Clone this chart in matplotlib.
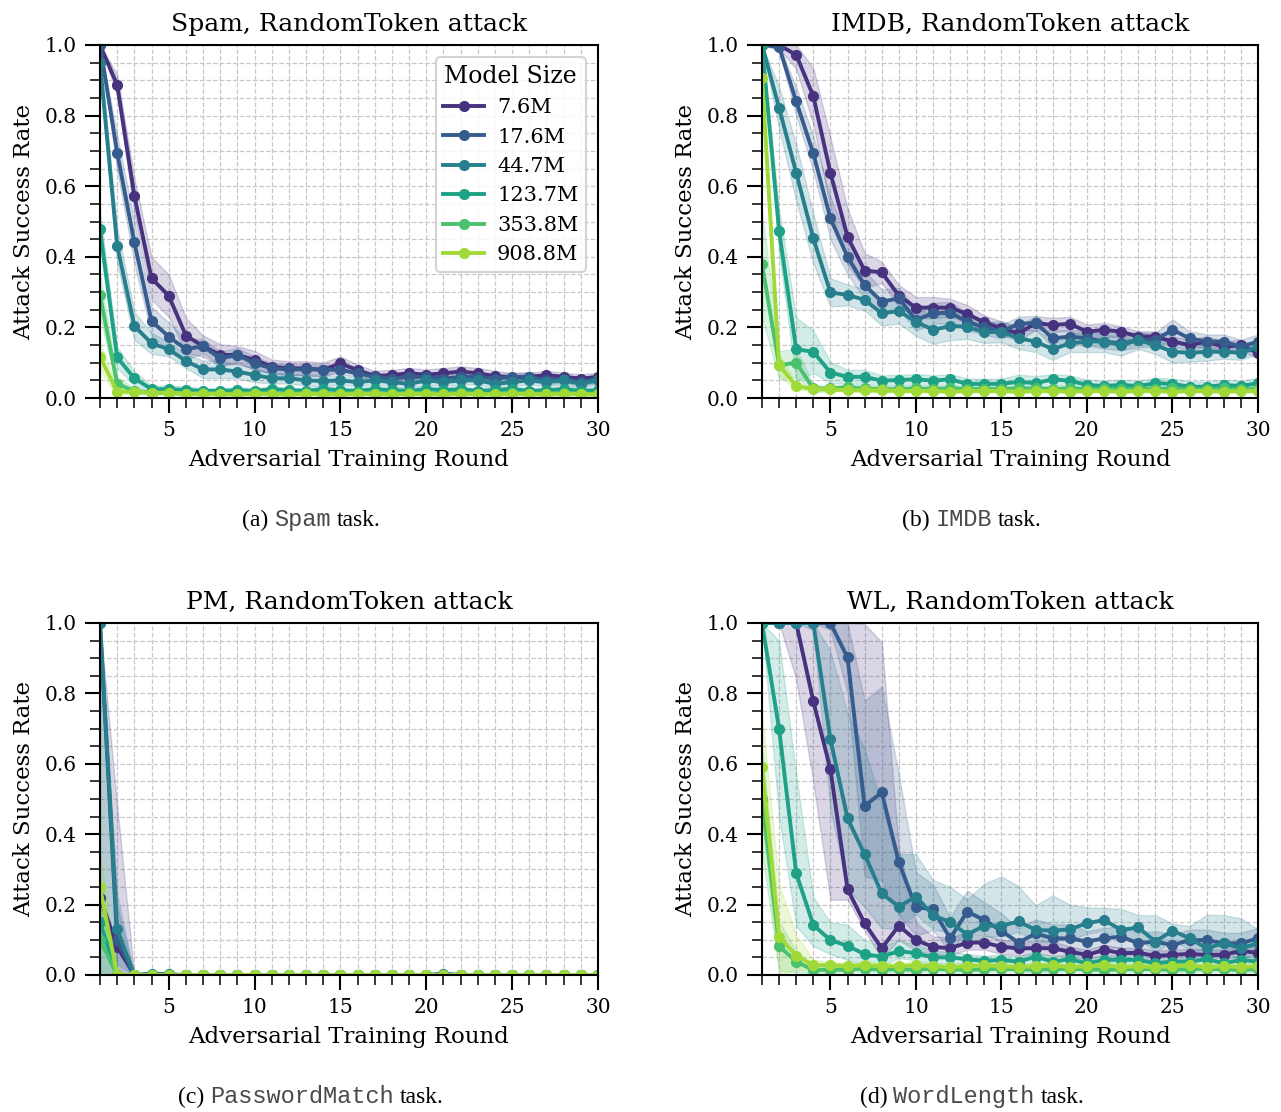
import numpy as np
import matplotlib
matplotlib.use('Agg')
import matplotlib.pyplot as plt
from matplotlib.ticker import MultipleLocator

plt.rcParams['font.family'] = 'DejaVu Serif'

rounds = list(range(1, 31))
model_sizes = ['7.6M', '17.6M', '44.7M', '123.7M', '353.8M', '908.8M']

# mean attack success rate per model size (rows) and per round (columns)
spam_asr = [
    [1.00, 0.887, 0.573, 0.339, 0.290, 0.177, 0.147, 0.122, 0.122, 0.108, 0.089, 0.084, 0.084, 0.080, 0.098,
     0.079, 0.062, 0.065, 0.070, 0.066, 0.070, 0.075, 0.070, 0.062, 0.058, 0.060, 0.065, 0.060, 0.055, 0.060],
    [1.00, 0.695, 0.441, 0.218, 0.174, 0.138, 0.147, 0.112, 0.122, 0.098, 0.084, 0.081, 0.081, 0.080, 0.080,
     0.070, 0.060, 0.055, 0.060, 0.060, 0.055, 0.060, 0.060, 0.055, 0.060, 0.060, 0.050, 0.055, 0.045, 0.055],
    [0.95, 0.432, 0.204, 0.155, 0.138, 0.105, 0.081, 0.081, 0.075, 0.065, 0.056, 0.056, 0.050, 0.048, 0.050,
     0.045, 0.050, 0.045, 0.040, 0.050, 0.045, 0.050, 0.050, 0.040, 0.045, 0.050, 0.045, 0.050, 0.040, 0.050],
    [0.478, 0.115, 0.056, 0.025, 0.025, 0.023, 0.020, 0.020, 0.022, 0.020, 0.025, 0.022, 0.020, 0.025, 0.022,
     0.020, 0.025, 0.022, 0.020, 0.025, 0.022, 0.025, 0.020, 0.022, 0.025, 0.020, 0.022, 0.025, 0.020, 0.022],
    [0.292, 0.040, 0.020, 0.015, 0.015, 0.012, 0.015, 0.012, 0.012, 0.015, 0.012, 0.012, 0.015, 0.012, 0.012,
     0.015, 0.012, 0.012, 0.015, 0.012, 0.012, 0.015, 0.012, 0.012, 0.015, 0.012, 0.012, 0.015, 0.012, 0.012],
    [0.117, 0.018, 0.018, 0.015, 0.015, 0.012, 0.012, 0.012, 0.010, 0.012, 0.012, 0.010, 0.012, 0.012, 0.010,
     0.012, 0.012, 0.010, 0.012, 0.012, 0.010, 0.012, 0.012, 0.010, 0.012, 0.012, 0.010, 0.012, 0.012, 0.010],
]
spam_err = [
    [0.00, 0.03, 0.05, 0.06, 0.06, 0.05, 0.03, 0.03, 0.025, 0.025, 0.02, 0.02, 0.02, 0.02, 0.02,
     0.015, 0.015, 0.015, 0.015, 0.015, 0.015, 0.015, 0.015, 0.015, 0.012, 0.012, 0.012, 0.012, 0.012, 0.012],
    [0.00, 0.05, 0.06, 0.04, 0.04, 0.03, 0.02, 0.02, 0.02, 0.02, 0.015, 0.015, 0.015, 0.015, 0.012,
     0.012, 0.012, 0.012, 0.012, 0.012, 0.012, 0.012, 0.012, 0.012, 0.012, 0.012, 0.012, 0.012, 0.012, 0.012],
    [0.03, 0.05, 0.04, 0.03, 0.02, 0.02, 0.025, 0.025, 0.02, 0.02, 0.015, 0.015, 0.015, 0.015, 0.012,
     0.012, 0.012, 0.012, 0.012, 0.012, 0.012, 0.012, 0.012, 0.012, 0.012, 0.012, 0.012, 0.012, 0.012, 0.012],
    [0.05, 0.03, 0.02, 0.01, 0.01, 0.01, 0.008, 0.008, 0.008, 0.008, 0.008, 0.008, 0.008, 0.008, 0.008,
     0.008, 0.008, 0.008, 0.008, 0.008, 0.008, 0.008, 0.008, 0.008, 0.008, 0.008, 0.008, 0.008, 0.008, 0.008],
    [0.06, 0.02, 0.008, 0.005, 0.005, 0.005, 0.005, 0.005, 0.005, 0.005, 0.005, 0.005, 0.005, 0.005, 0.005,
     0.005, 0.005, 0.005, 0.005, 0.005, 0.005, 0.005, 0.005, 0.005, 0.005, 0.005, 0.005, 0.005, 0.005, 0.005],
    [0.04, 0.01, 0.005, 0.005, 0.005, 0.005, 0.005, 0.005, 0.005, 0.005, 0.005, 0.005, 0.005, 0.005, 0.005,
     0.005, 0.005, 0.005, 0.005, 0.005, 0.005, 0.005, 0.005, 0.005, 0.005, 0.005, 0.005, 0.005, 0.005, 0.005],
]

imdb_asr = [
    [1.00, 1.00, 0.972, 0.855, 0.638, 0.457, 0.361, 0.356, 0.290, 0.256, 0.256, 0.256, 0.238, 0.214, 0.197,
     0.183, 0.212, 0.207, 0.210, 0.188, 0.193, 0.188, 0.174, 0.174, 0.160, 0.150, 0.160, 0.145, 0.150, 0.127],
    [1.00, 0.995, 0.840, 0.693, 0.509, 0.400, 0.320, 0.273, 0.282, 0.221, 0.240, 0.242, 0.216, 0.200, 0.188,
     0.210, 0.213, 0.169, 0.174, 0.169, 0.160, 0.155, 0.164, 0.165, 0.193, 0.169, 0.160, 0.160, 0.145, 0.160],
    [1.00, 0.822, 0.638, 0.452, 0.299, 0.292, 0.278, 0.240, 0.246, 0.216, 0.193, 0.204, 0.202, 0.186, 0.188,
     0.169, 0.160, 0.138, 0.155, 0.160, 0.160, 0.150, 0.164, 0.150, 0.131, 0.128, 0.131, 0.131, 0.128, 0.145],
    [1.00, 0.473, 0.138, 0.131, 0.072, 0.060, 0.060, 0.049, 0.051, 0.053, 0.049, 0.053, 0.040, 0.040, 0.040,
     0.046, 0.042, 0.053, 0.049, 0.037, 0.034, 0.037, 0.034, 0.042, 0.040, 0.032, 0.032, 0.037, 0.034, 0.042],
    [0.379, 0.093, 0.100, 0.027, 0.027, 0.030, 0.027, 0.025, 0.025, 0.027, 0.025, 0.027, 0.025, 0.025, 0.025,
     0.027, 0.027, 0.025, 0.027, 0.025, 0.027, 0.025, 0.027, 0.025, 0.027, 0.025, 0.025, 0.027, 0.025, 0.025],
    [0.906, 0.093, 0.034, 0.025, 0.025, 0.022, 0.022, 0.022, 0.020, 0.020, 0.020, 0.018, 0.020, 0.020, 0.020,
     0.018, 0.020, 0.020, 0.018, 0.020, 0.020, 0.018, 0.020, 0.020, 0.018, 0.020, 0.020, 0.018, 0.020, 0.020],
]
imdb_err = [
    [0.00, 0.01, 0.04, 0.08, 0.10, 0.08, 0.05, 0.03, 0.03, 0.03, 0.03, 0.025, 0.025, 0.02, 0.02,
     0.02, 0.02, 0.02, 0.02, 0.02, 0.02, 0.015, 0.015, 0.015, 0.015, 0.015, 0.015, 0.015, 0.015, 0.015],
    [0.00, 0.01, 0.04, 0.05, 0.06, 0.05, 0.04, 0.035, 0.03, 0.03, 0.03, 0.03, 0.025, 0.02, 0.02,
     0.02, 0.02, 0.025, 0.02, 0.02, 0.02, 0.02, 0.02, 0.02, 0.03, 0.02, 0.02, 0.02, 0.02, 0.02],
    [0.00, 0.06, 0.08, 0.07, 0.04, 0.03, 0.03, 0.035, 0.035, 0.04, 0.04, 0.04, 0.035, 0.03, 0.03,
     0.03, 0.03, 0.03, 0.025, 0.03, 0.03, 0.03, 0.025, 0.025, 0.03, 0.025, 0.025, 0.02, 0.02, 0.02],
    [0.00, 0.06, 0.09, 0.06, 0.03, 0.02, 0.02, 0.015, 0.015, 0.015, 0.015, 0.015, 0.015, 0.015, 0.015,
     0.02, 0.02, 0.015, 0.015, 0.015, 0.015, 0.015, 0.015, 0.015, 0.015, 0.015, 0.015, 0.015, 0.015, 0.015],
    [0.15, 0.04, 0.04, 0.01, 0.008, 0.008, 0.008, 0.008, 0.008, 0.008, 0.008, 0.008, 0.008, 0.008, 0.008,
     0.008, 0.008, 0.008, 0.008, 0.008, 0.008, 0.008, 0.008, 0.008, 0.008, 0.008, 0.008, 0.008, 0.008, 0.008],
    [0.05, 0.03, 0.01, 0.005, 0.005, 0.005, 0.005, 0.005, 0.005, 0.005, 0.005, 0.005, 0.005, 0.005, 0.005,
     0.005, 0.005, 0.005, 0.005, 0.005, 0.005, 0.005, 0.005, 0.005, 0.005, 0.005, 0.005, 0.005, 0.005, 0.005],
]

pm_asr = [
    [0.22, 0.08, 0.0, 0.0, 0.0, 0.0, 0.0, 0.0, 0.0, 0.0, 0.0, 0.0, 0.0, 0.0, 0.0,
     0.0, 0.0, 0.0, 0.0, 0.0, 0.0, 0.0, 0.0, 0.0, 0.0, 0.0, 0.0, 0.0, 0.0, 0.0],
    [1.00, 0.10, 0.0, 0.0, 0.0, 0.0, 0.0, 0.0, 0.0, 0.0, 0.0, 0.0, 0.0, 0.0, 0.0,
     0.0, 0.0, 0.0, 0.0, 0.0, 0.0, 0.0, 0.0, 0.0, 0.0, 0.0, 0.0, 0.0, 0.0, 0.0],
    [1.00, 0.13, 0.0, 0.004, 0.002, 0.0, 0.0, 0.0, 0.0, 0.0, 0.0, 0.0, 0.0, 0.0, 0.0,
     0.0, 0.0, 0.0, 0.0, 0.0, 0.004, 0.0, 0.0, 0.0, 0.0, 0.0, 0.0, 0.0, 0.0, 0.0],
    [0.15, 0.0, 0.0, 0.0, 0.0, 0.0, 0.0, 0.0, 0.0, 0.0, 0.0, 0.0, 0.0, 0.0, 0.0,
     0.0, 0.0, 0.0, 0.0, 0.0, 0.0, 0.0, 0.0, 0.0, 0.0, 0.0, 0.0, 0.0, 0.0, 0.0],
    [0.10, 0.0, 0.0, 0.0, 0.0, 0.0, 0.0, 0.0, 0.0, 0.0, 0.0, 0.0, 0.0, 0.0, 0.0,
     0.0, 0.0, 0.0, 0.0, 0.0, 0.0, 0.0, 0.0, 0.0, 0.0, 0.0, 0.0, 0.0, 0.0, 0.0],
    [0.25, 0.0, 0.0, 0.0, 0.0, 0.0, 0.0, 0.0, 0.0, 0.0, 0.0, 0.0, 0.0, 0.0, 0.0,
     0.0, 0.0, 0.0, 0.0, 0.0, 0.0, 0.0, 0.0, 0.0, 0.0, 0.0, 0.0, 0.0, 0.0, 0.0],
]
pm_err = [
    [0.80, 0.40, 0.0, 0.0, 0.0, 0.0, 0.0, 0.0, 0.0, 0.0, 0.0, 0.0, 0.0, 0.0, 0.0,
     0.0, 0.0, 0.0, 0.0, 0.0, 0.0, 0.0, 0.0, 0.0, 0.0, 0.0, 0.0, 0.0, 0.0, 0.0],
    [0.0, 0.10, 0.0, 0.0, 0.0, 0.0, 0.0, 0.0, 0.0, 0.0, 0.0, 0.0, 0.0, 0.0, 0.0,
     0.0, 0.0, 0.0, 0.0, 0.0, 0.0, 0.0, 0.0, 0.0, 0.0, 0.0, 0.0, 0.0, 0.0, 0.0],
    [0.0, 0.10, 0.0, 0.008, 0.004, 0.0, 0.0, 0.0, 0.0, 0.0, 0.0, 0.0, 0.0, 0.0, 0.0,
     0.0, 0.0, 0.0, 0.0, 0.0, 0.006, 0.0, 0.0, 0.0, 0.0, 0.0, 0.0, 0.0, 0.0, 0.0],
    [0.85, 0.0, 0.0, 0.0, 0.0, 0.0, 0.0, 0.0, 0.0, 0.0, 0.0, 0.0, 0.0, 0.0, 0.0,
     0.0, 0.0, 0.0, 0.0, 0.0, 0.0, 0.0, 0.0, 0.0, 0.0, 0.0, 0.0, 0.0, 0.0, 0.0],
    [0.10, 0.0, 0.0, 0.0, 0.0, 0.0, 0.0, 0.0, 0.0, 0.0, 0.0, 0.0, 0.0, 0.0, 0.0,
     0.0, 0.0, 0.0, 0.0, 0.0, 0.0, 0.0, 0.0, 0.0, 0.0, 0.0, 0.0, 0.0, 0.0, 0.0],
    [0.10, 0.0, 0.0, 0.0, 0.0, 0.0, 0.0, 0.0, 0.0, 0.0, 0.0, 0.0, 0.0, 0.0, 0.0,
     0.0, 0.0, 0.0, 0.0, 0.0, 0.0, 0.0, 0.0, 0.0, 0.0, 0.0, 0.0, 0.0, 0.0, 0.0],
]

wl_asr = [
    [1.00, 1.00, 1.00, 0.778, 0.584, 0.244, 0.147, 0.076, 0.140, 0.099, 0.080, 0.076, 0.092, 0.092, 0.080,
     0.076, 0.076, 0.076, 0.066, 0.057, 0.071, 0.062, 0.063, 0.054, 0.057, 0.060, 0.057, 0.057, 0.069, 0.062],
    [1.00, 1.00, 1.00, 1.00, 1.00, 0.902, 0.480, 0.519, 0.320, 0.192, 0.187, 0.104, 0.180, 0.156, 0.125,
     0.092, 0.118, 0.104, 0.104, 0.095, 0.104, 0.109, 0.090, 0.095, 0.085, 0.099, 0.099, 0.090, 0.090, 0.104],
    [1.00, 1.00, 1.00, 1.00, 0.670, 0.445, 0.343, 0.232, 0.194, 0.223, 0.170, 0.150, 0.115, 0.140, 0.140,
     0.152, 0.128, 0.126, 0.130, 0.147, 0.156, 0.128, 0.135, 0.095, 0.126, 0.104, 0.076, 0.090, 0.076, 0.090],
    [1.00, 0.699, 0.289, 0.142, 0.099, 0.083, 0.059, 0.052, 0.068, 0.062, 0.050, 0.050, 0.045, 0.040, 0.043,
     0.038, 0.052, 0.038, 0.045, 0.033, 0.043, 0.043, 0.043, 0.033, 0.038, 0.038, 0.045, 0.033, 0.043, 0.038],
    [0.50, 0.082, 0.038, 0.014, 0.015, 0.015, 0.018, 0.015, 0.016, 0.015, 0.018, 0.016, 0.015, 0.016, 0.018,
     0.016, 0.015, 0.016, 0.018, 0.016, 0.015, 0.016, 0.018, 0.016, 0.015, 0.016, 0.018, 0.016, 0.015, 0.016],
    [0.59, 0.109, 0.055, 0.028, 0.028, 0.025, 0.028, 0.025, 0.025, 0.028, 0.025, 0.022, 0.025, 0.028, 0.025,
     0.022, 0.025, 0.028, 0.022, 0.025, 0.028, 0.022, 0.025, 0.022, 0.025, 0.028, 0.022, 0.025, 0.022, 0.025],
]
# WordLength bands are lopsided, so they get separate below / above widths
wl_err = [
    [0.00, 0.00, 0.16, 0.23, 0.37, 0.03, 0.02, 0.03, 0.04, 0.03, 0.02, 0.02, 0.02, 0.02, 0.02,
     0.02, 0.02, 0.02, 0.015, 0.015, 0.015, 0.015, 0.015, 0.015, 0.015, 0.015, 0.015, 0.015, 0.015, 0.015],
    [0.00, 0.00, 0.00, 0.00, 0.02, 0.10, 0.20, 0.25, 0.15, 0.08, 0.06, 0.04, 0.05, 0.04, 0.03,
     0.03, 0.03, 0.03, 0.03, 0.03, 0.03, 0.03, 0.03, 0.03, 0.03, 0.03, 0.03, 0.03, 0.03, 0.03],
    [0.00, 0.00, 0.00, 0.02, 0.20, 0.20, 0.15, 0.10, 0.06, 0.05, 0.04, 0.03, 0.03, 0.03, 0.03,
     0.03, 0.03, 0.03, 0.03, 0.03, 0.03, 0.03, 0.03, 0.03, 0.03, 0.03, 0.03, 0.03, 0.03, 0.03],
    [0.00, 0.25, 0.15, 0.06, 0.04, 0.04, 0.03, 0.025, 0.02, 0.02, 0.02, 0.015, 0.015, 0.015, 0.015,
     0.015, 0.015, 0.015, 0.015, 0.015, 0.015, 0.015, 0.015, 0.015, 0.015, 0.015, 0.015, 0.015, 0.015, 0.015],
    [0.15, 0.07, 0.03, 0.01, 0.008, 0.008, 0.008, 0.008, 0.008, 0.008, 0.008, 0.008, 0.008, 0.008, 0.008,
     0.008, 0.008, 0.008, 0.008, 0.008, 0.008, 0.008, 0.008, 0.008, 0.008, 0.008, 0.008, 0.008, 0.008, 0.008],
    [0.15, 0.12, 0.04, 0.015, 0.01, 0.01, 0.01, 0.01, 0.01, 0.01, 0.01, 0.01, 0.01, 0.01, 0.01,
     0.01, 0.01, 0.01, 0.01, 0.01, 0.01, 0.01, 0.01, 0.01, 0.01, 0.01, 0.01, 0.01, 0.01, 0.01],
]
wl_err_hi = [
    [0.00, 0.00, 0.00, 0.22, 0.42, 0.76, 0.85, 0.87, 0.22, 0.05, 0.03, 0.03, 0.03, 0.02, 0.02,
     0.02, 0.02, 0.02, 0.015, 0.015, 0.015, 0.015, 0.015, 0.015, 0.015, 0.015, 0.015, 0.015, 0.015, 0.015],
    [0.00, 0.00, 0.00, 0.00, 0.00, 0.10, 0.30, 0.30, 0.25, 0.10, 0.07, 0.06, 0.06, 0.05, 0.05,
     0.04, 0.04, 0.04, 0.04, 0.03, 0.03, 0.03, 0.03, 0.03, 0.03, 0.03, 0.03, 0.03, 0.03, 0.03],
    [0.00, 0.00, 0.00, 0.00, 0.25, 0.30, 0.30, 0.25, 0.15, 0.12, 0.10, 0.10, 0.10, 0.12, 0.14,
     0.10, 0.07, 0.10, 0.07, 0.045, 0.035, 0.06, 0.035, 0.075, 0.02, 0.035, 0.095, 0.08, 0.085, 0.04],
    [0.00, 0.25, 0.28, 0.08, 0.05, 0.06, 0.04, 0.03, 0.03, 0.025, 0.02, 0.015, 0.015, 0.015, 0.015,
     0.015, 0.015, 0.015, 0.015, 0.015, 0.015, 0.015, 0.015, 0.015, 0.015, 0.015, 0.015, 0.015, 0.015, 0.015],
    [0.15, 0.07, 0.03, 0.01, 0.008, 0.008, 0.008, 0.008, 0.008, 0.008, 0.008, 0.008, 0.008, 0.008, 0.008,
     0.008, 0.008, 0.008, 0.008, 0.008, 0.008, 0.008, 0.008, 0.008, 0.008, 0.008, 0.008, 0.008, 0.008, 0.008],
    [0.15, 0.15, 0.06, 0.015, 0.01, 0.01, 0.01, 0.01, 0.01, 0.01, 0.01, 0.01, 0.01, 0.01, 0.01,
     0.01, 0.01, 0.01, 0.01, 0.01, 0.01, 0.01, 0.01, 0.01, 0.01, 0.01, 0.01, 0.01, 0.01, 0.01],
]

titles = ['Spam, RandomToken attack', 'IMDB, RandomToken attack',
          'PM, RandomToken attack', 'WL, RandomToken attack']
caption_tags = ['(a)', '(b)', '(c)', '(d)']
caption_tasks = ['Spam', 'IMDB', 'PasswordMatch', 'WordLength']

colors = plt.cm.viridis(np.linspace(0, 1, 8)[1:-1])

W, H = 1281, 1112
fig = plt.figure(figsize=(W / 100, H / 100), dpi=100)


def px_rect(left, top, right, bottom):
    return [left / W, 1 - bottom / H, (right - left) / W, (bottom - top) / H]


rects = [px_rect(100, 45, 598, 398), px_rect(762, 45, 1258, 398),
         px_rect(100, 623, 598, 975), px_rect(762, 623, 1258, 975)]
caption_pos = [(311, 526), (972, 526), (311, 1103), (972, 1103)]

panels = [(spam_asr, spam_err, spam_err), (imdb_asr, imdb_err, imdb_err),
          (pm_asr, pm_err, pm_err), (wl_asr, wl_err, wl_err_hi)]

renderer = fig.canvas.get_renderer()


def caption(cx, cy, tag, task):
    # serif tag + monospace task name + serif word, laid out side by side
    parts = [(tag, 'Liberation Serif', 'black'), (task, 'Liberation Mono', '#4a4a4a'),
             ('task.', 'Liberation Serif', 'black')]
    texts = [fig.text(0, 1 - cy / H, s, family=f, color=c, fontsize=17, va='baseline')
             for s, f, c in parts]
    widths = [t.get_window_extent(renderer).width for t in texts]
    gap = 0.25 * 17 * 100 / 72
    x = cx - (sum(widths) + 2 * gap) / 2
    for t, w in zip(texts, widths):
        t.set_x(x / W)
        x += w + gap


for i, (asr, err_lo, err_hi) in enumerate(panels):
    ax = fig.add_axes(rects[i])
    for k, size in enumerate(model_sizes):
        m = np.array(asr[k])
        lo = np.clip(m - np.array(err_lo[k]), 0, 1)
        hi = np.clip(m + np.array(err_hi[k]), 0, 1)
        ax.fill_between(rounds, lo, hi, color=colors[k], alpha=0.2)
        ax.plot(rounds, m, color=colors[k], lw=2.8, marker='o', ms=7, label=size)

    ax.set_xlim(1, 30)
    ax.set_ylim(0, 1)
    ax.xaxis.set_major_locator(MultipleLocator(5))
    ax.xaxis.set_minor_locator(MultipleLocator(1))
    ax.yaxis.set_major_locator(MultipleLocator(0.2))
    ax.yaxis.set_minor_locator(MultipleLocator(0.05))
    ax.grid(which='both', color='#c8c8c8', linestyle='--', linewidth=0.9)
    ax.set_axisbelow(True)
    for sp in ax.spines.values():
        sp.set_linewidth(1.5)
    ax.tick_params(which='major', length=10.8, width=1.5, labelsize=14.5, pad=6)
    ax.tick_params(which='minor', length=7, width=1.1)
    ax.set_title(titles[i], fontsize=18, pad=10)
    ax.set_xlabel('Adversarial Training Round', fontsize=16.5, labelpad=6)
    ax.set_ylabel('Attack Success Rate', fontsize=16.5, labelpad=7)

    if i == 0:
        leg = ax.legend(title='Model Size', loc='upper right', fontsize=15, title_fontsize=17,
                        handlelength=2.0, handletextpad=0.6, labelspacing=0.5,
                        borderaxespad=0.6, borderpad=0.35, framealpha=0.85, fancybox=True)
        leg.get_frame().set_edgecolor('#cccccc')
        leg.get_frame().set_linewidth(1.5)

    caption(caption_pos[i][0], caption_pos[i][1], caption_tags[i], caption_tasks[i])

fig.savefig('out.png', dpi=100)
